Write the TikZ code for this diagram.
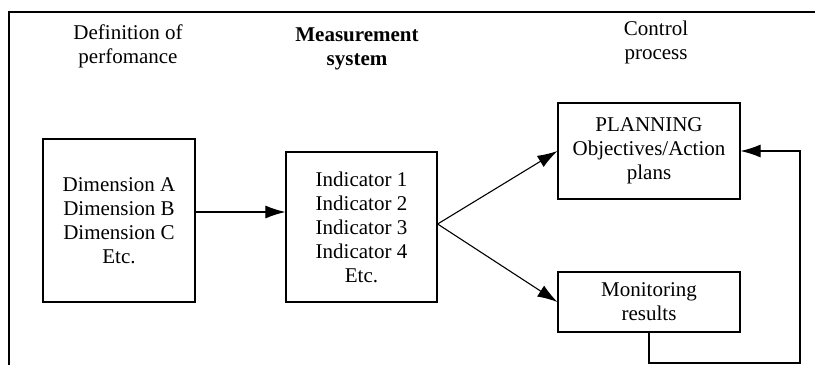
\documentclass[tikz,border=0pt]{standalone}
\usepackage{fontspec}
\setmainfont{Liberation Serif}
\usetikzlibrary{arrows.meta}

\begin{document}
\begin{tikzpicture}[
    x=1pt,y=-1pt,
    >={Latex[length=20pt,width=13pt]},
    block/.style={draw,line width=1.2,align=center,inner sep=0,
      font=\fontsize{21}{24}\selectfont},
    header/.style={align=center,font=\fontsize{21}{24}\selectfont},
    link/.style={->,line width=1.1},
    frame/.style={line width=2.2}
    ]
% PERFORMANCE MEASUREMENT SCHEME
\def\W{815}   % picture width
\def\H{365}   % picture height
\useasboundingbox (0,0) rectangle (\W,\H);

    % FRAME (open at the bottom)
    \draw[frame] (9,\H) -- (9,12) -- (\W,12);

    % HEADERS
    \node[header] (hdef)  at (128,46) {Definition of\\perfomance};
    \node[header,font=\fontsize{21}{24}\selectfont\bfseries] (hmeas) at (357,49) {Measurement\\system};
    \node[header] (hctrl) at (656,42) {Control\\process};

    % BLOCKS
    \node[block,minimum width=152,minimum height=163] (dim) at (119,220.5)
        {Dimension A\\Dimension B\\Dimension C\\Etc.};
    \node[block,minimum width=151,minimum height=150] (ind) at (361.5,227)
        {Indicator 1\\Indicator 2\\Indicator 3\\Indicator 4\\Etc.};
    \node[block,minimum width=182,minimum height=96] (plan) at (649,151)
        {PLANNING\\Objectives/Action\\plans};
    \node[block,minimum width=182,minimum height=60] (mon) at (649,302)
        {Monitoring\\results};

    % CONNECTIONS
    \coordinate (fork) at ([yshift=3]ind.east);
    \coordinate (loop) at (800,363);
    \draw[link] ([yshift=8.5]dim.east) -- ([yshift=8.5]dim.east -| ind.west);
    \draw[link] (fork) -- (plan.west);
    \draw[link] (fork) -- (mon.west);
    \draw[link] (mon.south) |- (loop) |- (plan.east); % feedback loop
\end{tikzpicture}
\end{document}
